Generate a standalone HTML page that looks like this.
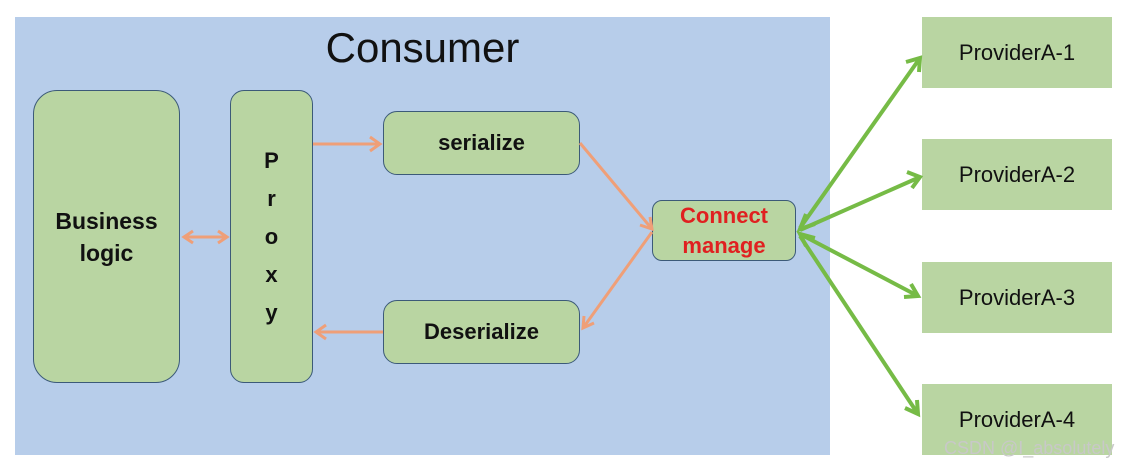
<!DOCTYPE html>
<html><head><style>
body{margin:0;width:1141px;height:470px;background:#fff;position:relative;overflow:hidden;font-family:"Liberation Sans",sans-serif}
.a{position:absolute;box-sizing:border-box}
.g{background:#b9d5a2;border:1.5px solid #3c5a78;border-radius:14px;display:flex;align-items:center;justify-content:center;font-weight:bold;color:#111;text-align:center}
.p{background:#b9d5a2;display:flex;align-items:center;justify-content:center;font-size:22px;color:#111}
</style></head><body>
<div class="a" style="left:15px;top:17px;width:815px;height:438px;background:#b7cdea"></div>
<div class="a" style="left:300px;top:24px;width:245px;text-align:center;font-size:42px;color:#111">Consumer</div>
<div class="a g" style="left:33px;top:90px;width:147px;height:293px;border-radius:24px;font-size:23px;line-height:32px">Business<br>logic</div>
<div class="a g" style="left:230px;top:90px;width:83px;height:293px;font-size:22px;line-height:38px">P<br>r<br>o<br>x<br>y</div>
<div class="a g" style="left:383px;top:111px;width:197px;height:64px;font-size:22px">serialize</div>
<div class="a g" style="left:383px;top:300px;width:197px;height:64px;font-size:22px">Deserialize</div>
<div class="a g" style="left:652px;top:200px;width:144px;height:61px;font-size:22px;color:#e02020;line-height:30px;border-radius:10px">Connect<br>manage</div>
<div class="a p" style="left:922px;top:17px;width:190px;height:71px">ProviderA-1</div>
<div class="a p" style="left:922px;top:139px;width:190px;height:71px">ProviderA-2</div>
<div class="a p" style="left:922px;top:262px;width:190px;height:71px">ProviderA-3</div>
<div class="a p" style="left:922px;top:384px;width:190px;height:71px">ProviderA-4</div>
<div class="a" style="left:944px;top:438px;font-size:18px;color:#c8c8c8">CSDN @I_absolutely</div>
<svg class="a" style="left:0;top:0" width="1141" height="470">
<g stroke="#ef9f78" stroke-width="3" fill="none">
<line x1="184" y1="237" x2="227" y2="237"/><polyline points="193,231 184,237 193,243"/><polyline points="218,231 227,237 218,243"/>
<line x1="313" y1="144" x2="380" y2="144"/><polyline points="370,137 380,144 370,151"/>
<line x1="383" y1="332" x2="316" y2="332"/><polyline points="326,325 316,332 326,339"/>
<line x1="580" y1="143" x2="652" y2="229"/><polyline points="640,225 652,229 650,217"/>
<line x1="652" y1="232" x2="583" y2="328"/><polyline points="584,316 583,328 594,323"/>
</g>
<g stroke="#76bb46" stroke-width="4" fill="none">
<line x1="800" y1="228" x2="920" y2="58"/><polyline points="906,62 920,58 919,72"/>
<line x1="800" y1="230" x2="920" y2="177"/><polyline points="907,172 920,177 912,188"/>
<line x1="800" y1="234" x2="918" y2="296"/><polyline points="911,284 918,296 904,297"/>
<line x1="800" y1="236" x2="918" y2="414"/><polyline points="917,400 918,414 905,408"/>
<polyline points="806,214 800,229 815,224"/><polyline points="806,246 800,234 815,238"/>
</g>
</svg>
</body></html>
